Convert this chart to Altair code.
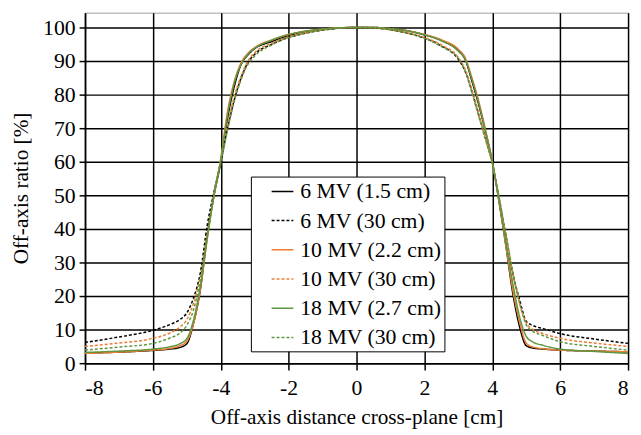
import altair as alt
import pandas as pd

# Off-axis positions [cm]
X = [-8, -7, -6, -5.5, -5.2, -5.0, -4.8, -4.6, -4.4, -4.2, -4.0, -3.8, -3.6, -3.4, -3.2, -3.0,
     -2.5, -2.0, -1.5, -1.0, -0.5, 0, 0.5, 1.0, 1.5, 2.0, 2.5,
     3.0, 3.2, 3.4, 3.6, 3.8, 4.0, 4.2, 4.4, 4.6, 4.8, 5.0, 5.2, 5.5, 6, 7, 8]

mv6_15 = [3.0, 3.3, 3.8, 4.2, 4.7, 5.8, 12, 22, 38, 50, 60, 73, 82.5, 89, 91.8, 93.7,
          95.8, 97.6, 98.8, 99.4, 99.8, 100, 100, 99.6, 99.0, 97.8, 96.2,
          93.0, 90.5, 84, 77, 69, 60, 48, 35, 21, 11, 5.2, 4.5, 4.2, 3.9, 3.6, 3.4]
mv6_30 = [6.2, 7.8, 9.8, 11.5, 13, 15, 19.5, 27, 41, 51, 60, 70, 78.5, 85, 89.5, 92,
          95, 97, 98.3, 99.2, 99.8, 100, 99.9, 99.3, 98.3, 96.8, 94.5,
          90.5, 87, 81, 74, 67, 59.5, 49, 38, 27, 19, 12.5, 11.2, 10.3, 8.8, 7.2, 5.9]
mv10_22 = [2.9, 3.3, 3.9, 4.4, 5.2, 6.5, 12, 22, 37, 50, 61, 75, 84, 89.5, 92.3, 94,
           96.3, 97.9, 98.9, 99.5, 99.9, 100, 100, 99.6, 99.0, 97.9, 96.3,
           93.5, 91, 85, 78, 69.5, 60, 48, 35, 22, 12.5, 6, 4.8, 4.3, 3.9, 3.6, 3.4]
mv10_30 = [5.0, 6.0, 7.4, 9.0, 10.8, 13, 18, 26, 38.5, 50, 60, 71, 79.5, 85.5, 90, 92.5,
           95.3, 97.2, 98.4, 99.3, 99.8, 100, 99.9, 99.3, 98.4, 97.0, 94.8,
           91, 87.5, 81.5, 74.5, 67, 59.5, 49, 38, 27, 18, 12, 10, 8.8, 7.4, 6.0, 5.0]
mv18_27 = [3.2, 3.6, 4.2, 4.9, 5.8, 7.3, 13, 23, 37, 50, 60.5, 74, 83.5, 89, 92, 93.8,
           96.2, 97.9, 98.9, 99.5, 99.9, 100, 100, 99.6, 99.0, 97.8, 96.0,
           93.0, 90.5, 84.5, 77.5, 69, 60, 48.5, 36, 24, 14, 8, 6.3, 5.3, 4.2, 3.5, 2.9]
mv18_30 = [3.9, 4.8, 5.9, 7.5, 9.0, 11.3, 16, 25, 38, 50, 59.5, 69.5, 78, 84.5, 89, 91.5,
           94.8, 97.0, 98.3, 99.2, 99.8, 100, 99.9, 99.3, 98.3, 96.8, 94.3,
           90.8, 87, 80.5, 73.5, 66.5, 59.5, 49.5, 38.5, 27.5, 18, 11.5, 9.5, 8.2, 6.4, 5.0, 3.9]

names = ["6 MV (1.5 cm)", "6 MV (30 cm)", "10 MV (2.2 cm)",
         "10 MV (30 cm)", "18 MV (2.7 cm)", "18 MV (30 cm)"]
series = [mv6_15, mv6_30, mv10_22, mv10_30, mv18_27, mv18_30]
colors = ["#000000", "#000000", "#ED7D31", "#ED7D31", "#5F9640", "#5F9640"]
dashes = [[1, 0], [3, 2], [1, 0], [3, 2], [1, 0], [3, 2]]

x_ticks = [-8, -6, -4, -2, 0, 2, 4, 6, 8]
y_ticks = [0, 10, 20, 30, 40, 50, 60, 70, 80, 90, 100]

rows = []
for name, vals in zip(names, series):
    for i, (x, v) in enumerate(zip(X, vals)):
        rows.append({"x": x, "y": v, "series": name, "order": i})
df = pd.DataFrame(rows)

FONT = "Liberation Serif"

legend = alt.Legend(
    title=None, orient="none", legendX=168, legendY=166,
    symbolType="stroke", symbolSize=484, symbolStrokeWidth=1.5,
    symbolOffset=17, labelOffset=6, padding=3, rowPadding=6.6,
    labelFont=FONT, labelFontSize=22, labelColor="black", labelLimit=400,
    strokeColor="black", fillColor="white",
)

label_expr = "'' + datum.value"

chart = alt.Chart(df).mark_line(strokeWidth=1.5, interpolate="monotone", clip=True).encode(
    x=alt.X("x:Q", scale=alt.Scale(domain=[-8, 8], nice=False),
            axis=alt.Axis(values=x_ticks, title="Off-axis distance cross-plane [cm]",
                          labelExpr=label_expr, labelFont=FONT, labelFontSize=22,
                          tickSize=7, labelPadding=8, titlePadding=8)),
    y=alt.Y("y:Q", scale=alt.Scale(domain=[0, 104.4], nice=False),
            axis=alt.Axis(values=y_ticks, title="Off-axis ratio [%]",
                          labelExpr=label_expr, labelFont=FONT, labelFontSize=22,
                          tickSize=6, labelPadding=4, titlePadding=10)),
    color=alt.Color("series:N", scale=alt.Scale(domain=names, range=colors), legend=legend),
    strokeDash=alt.StrokeDash("series:N", scale=alt.Scale(domain=names, range=dashes), legend=legend),
    order="order:Q",
).properties(
    width=550, height=355,
    autosize=alt.AutoSizeParams(type="none"),
    padding={"left": 78, "top": 2, "right": 5, "bottom": 70},
).configure_view(
    stroke="#a0a0a0", strokeWidth=1
).configure_axis(
    grid=True, gridColor="black", gridWidth=1.5, gridOpacity=1,
    domainColor="black", domainWidth=1.5,
    tickColor="black", tickWidth=1.5,
    labelFont=FONT, labelFontSize=22, labelColor="black",
    titleFont=FONT, titleFontSize=21.5, titleColor="black", titleFontWeight="normal",
)

chart.save("out.html", embed_options={"renderer": "svg", "actions": False})
